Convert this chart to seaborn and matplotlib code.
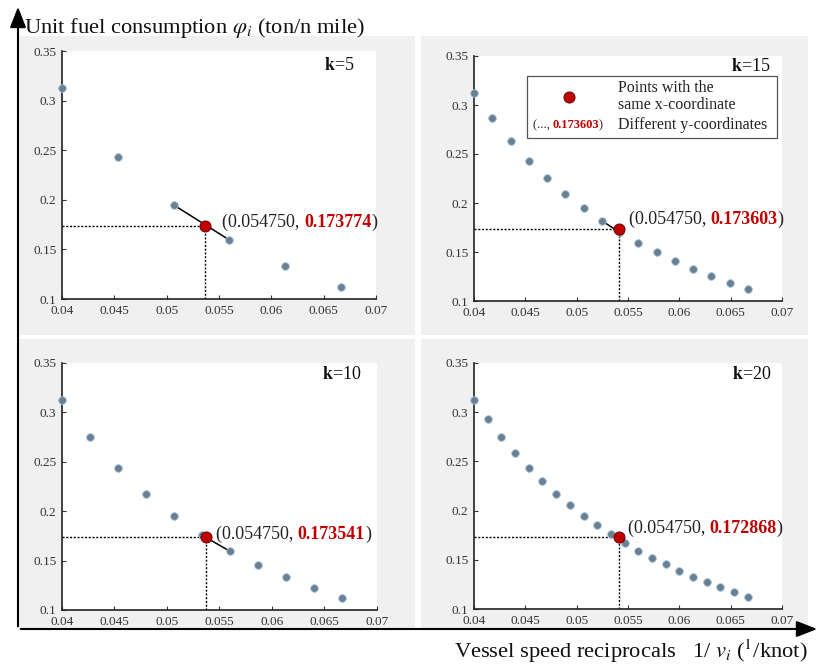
import seaborn as sns
import pandas as pd
import matplotlib.pyplot as plt
from matplotlib.patches import Rectangle, FancyArrowPatch

sns.set_theme(style="white")
plt.rcParams['font.family'] = ['Liberation Serif', 'DejaVu Serif']
plt.rcParams['mathtext.fontset'] = 'stix'

# sampled points (1/v, unit fuel consumption) for each k
x_k5 = [0.04, 0.04533, 0.05067, 0.056, 0.06133, 0.06667]
y_k5 = [0.3125, 0.2433, 0.1948, 0.1594, 0.1329, 0.1125]

x_k10 = [0.04, 0.04267, 0.04533, 0.048, 0.05067, 0.05333, 0.056, 0.05867, 0.06133, 0.064, 0.06667]
y_k10 = [0.3125, 0.2746, 0.2433, 0.2170, 0.1948, 0.1758, 0.1594, 0.1453, 0.1329, 0.1221, 0.1125]

x_k15 = [0.04, 0.04178, 0.04356, 0.04533, 0.04711, 0.04889, 0.05067, 0.05244,
         0.05422, 0.056, 0.05778, 0.05956, 0.06133, 0.06311, 0.06489, 0.06667]
y_k15 = [0.3125, 0.2865, 0.2636, 0.2433, 0.2253, 0.2092, 0.1948, 0.1818,
         0.1701, 0.1594, 0.1498, 0.1410, 0.1329, 0.1255, 0.1187, 0.1125]

x_k20 = [0.04, 0.04133, 0.04267, 0.044, 0.04533, 0.04667, 0.048, 0.04933, 0.05067, 0.052, 0.05333,
         0.05467, 0.056, 0.05733, 0.05867, 0.06, 0.06133, 0.06267, 0.064, 0.06533, 0.06667]
y_k20 = [0.3125, 0.2927, 0.2746, 0.2583, 0.2433, 0.2296, 0.2170, 0.2054, 0.1948, 0.1849, 0.1758,
         0.1673, 0.1594, 0.1521, 0.1453, 0.1389, 0.1329, 0.1273, 0.1221, 0.1171, 0.1125]

# interpolated point (drawn position) and label values
red_x = {5: 0.0537, 10: 0.0537, 15: 0.0541, 20: 0.0541}
red_y = {5: 0.173774, 10: 0.173541, 15: 0.173603, 20: 0.172868}
red_lbl = {5: "0.173774", 10: "0.173541", 15: "0.173603", 20: "0.172868"}
# neighbours joined by the interpolation segment (indices)
seg = {5: (2, 3), 10: (5, 6), 15: (7, 8), 20: (10, 11)}

data = {5: (x_k5, y_k5), 10: (x_k10, y_k10), 15: (x_k15, y_k15), 20: (x_k20, y_k20)}

W, H = 820, 665
fig = plt.figure(figsize=(W / 100, H / 100), dpi=100)

def fx(px):
    return px / W

def fy(py):
    return 1 - py / H

# grey panels
panels = [(17, 415, 36, 335), (421, 808, 36, 335), (17, 415, 339, 628), (421, 808, 339, 628)]
for x0, x1, y0, y1 in panels:
    fig.add_artist(Rectangle((fx(x0), fy(y1)), fx(x1 - x0), (y1 - y0) / H,
                             transform=fig.transFigure, facecolor="#f0f0f0",
                             edgecolor="none", zorder=0))

# axes boxes: left, right, top, bottom in pixels
boxes = {5: (62, 376, 51, 299), 15: (474, 782, 56, 301),
         10: (62, 377, 363, 610), 20: (474, 782, 363, 609)}
k_pos = {5: (0.93, 0.94), 15: (0.964, 0.959), 10: (0.952, 0.955), 20: (0.964, 0.955)}
txt_off = {5: (17, 3), 15: (10, 10), 10: (10, 3), 20: (9, 9)}

for k in [5, 15, 10, 20]:
    l, r, t, b = boxes[k]
    ax = fig.add_axes([fx(l), fy(b), fx(r - l), (b - t) / H])
    ax.set_facecolor("white")
    xs, ys = data[k]
    df = pd.DataFrame({"x": xs, "y": ys})
    i0, i1 = seg[k]
    ax.plot([xs[i0], xs[i1]], [ys[i0], ys[i1]], color="black", lw=1.1, zorder=2)
    sns.scatterplot(data=df, x="x", y="y", ax=ax, color="#6b7f90", edgecolor="#9cc0dd",
                    linewidth=0.6, s=30, zorder=3, clip_on=False)
    rx, ry = red_x[k], red_y[k]
    ax.plot([0.04, rx], [ry, ry], color="black", lw=1, ls=(0, (1.5, 1.2)), zorder=1)
    ax.plot([rx, rx], [0.1, ry], color="black", lw=1, ls=(0, (1.5, 1.2)), zorder=1)
    ax.scatter([rx], [ry], s=62, color="#c00000", edgecolor="#7a0000", linewidth=0.8, zorder=4)

    ax.set_xlim(0.04, 0.07)
    ax.set_ylim(0.1, 0.35)
    ax.set_xticks([0.04, 0.045, 0.05, 0.055, 0.06, 0.065, 0.07])
    ax.set_xticklabels(["0.04", "0.045", "0.05", "0.055", "0.06", "0.065", "0.07"])
    ax.set_yticks([0.1, 0.15, 0.2, 0.25, 0.3, 0.35])
    ax.set_yticklabels(["0.1", "0.15", "0.2", "0.25", "0.3", "0.35"])
    ax.tick_params(axis="both", direction="in", length=3, width=0.8, labelsize=9.5,
                   colors="#333333", pad=4, left=True, bottom=True)
    ax.set_xlabel("")
    ax.set_ylabel("")
    for s in ["top", "right"]:
        ax.spines[s].set_visible(False)
    for s in ["left", "bottom"]:
        ax.spines[s].set_color("#222222")
        ax.spines[s].set_linewidth(1.2)

    kx, ky = k_pos[k]
    ax.text(kx, ky, r"$\mathbf{k}$=%d" % k, transform=ax.transAxes, ha="right", va="center",
            fontsize=13, color="#111111")

    ox, oy = txt_off[k]
    t1 = ax.annotate("(0.054750, ", xy=(rx, ry), xytext=(ox, oy), textcoords="offset pixels",
                     ha="left", va="center", fontsize=13, color="#222222")
    t2 = ax.annotate(red_lbl[k], xycoords=t1, xy=(1, 0), va="bottom", ha="left",
                     fontsize=13, color="#c00000", fontweight="bold")
    ax.annotate(")", xycoords=t2, xy=(1, 0), va="bottom", ha="left", fontsize=13, color="#222222")

    if k == 15:
        ax.add_patch(Rectangle((0.172, 0.665), 0.812, 0.253, transform=ax.transAxes,
                               facecolor="white", edgecolor="#555555", lw=0.9, zorder=5))
        ax.scatter([0.308], [0.833], transform=ax.transAxes, s=62, color="#c00000",
                   edgecolor="#7a0000", linewidth=0.8, zorder=6)
        ax.text(0.468, 0.836, "Points with the\nsame x-coordinate", transform=ax.transAxes,
                ha="left", va="center", fontsize=11.5, color="#222222", zorder=6, linespacing=1.1)
        ax.text(0.468, 0.718, "Different y-coordinates", transform=ax.transAxes,
                ha="left", va="center", fontsize=11.5, color="#222222", zorder=6)
        l1 = ax.text(0.19, 0.718, "(..., ", transform=ax.transAxes, ha="left", va="center",
                     fontsize=9, color="#222222", zorder=6)
        l2 = ax.annotate("0.173603", xycoords=l1, xy=(1, 0), va="bottom", ha="left", fontsize=9,
                         color="#c00000", fontweight="bold", zorder=6)
        ax.annotate(")", xycoords=l2, xy=(1, 0), va="bottom", ha="left", fontsize=9,
                    color="#222222", zorder=6)

# outer arrow axes
fig.add_artist(FancyArrowPatch((fx(18), fy(629)), (fx(18), fy(4)), transform=fig.transFigure,
                               arrowstyle="-|>,head_length=0.9,head_width=0.35",
                               mutation_scale=14, color="black", lw=1.5))
fig.add_artist(FancyArrowPatch((fx(18), fy(629)), (fx(820), fy(629)), transform=fig.transFigure,
                               arrowstyle="-|>,head_length=0.9,head_width=0.35",
                               mutation_scale=14, color="black", lw=1.5))

fig.text(fx(24), fy(28), r"Unit fuel consumption $\varphi_i$ (ton/n mile)", ha="left",
         va="center", fontsize=16.2, color="#111111")
fig.text(fx(808), fy(651), r"Vessel speed reciprocals   1/ $v_i$ ($^{1}$/knot)", ha="right",
         va="center", fontsize=16.2, color="#111111")

plt.savefig("out.png", dpi=100)
plt.close()
